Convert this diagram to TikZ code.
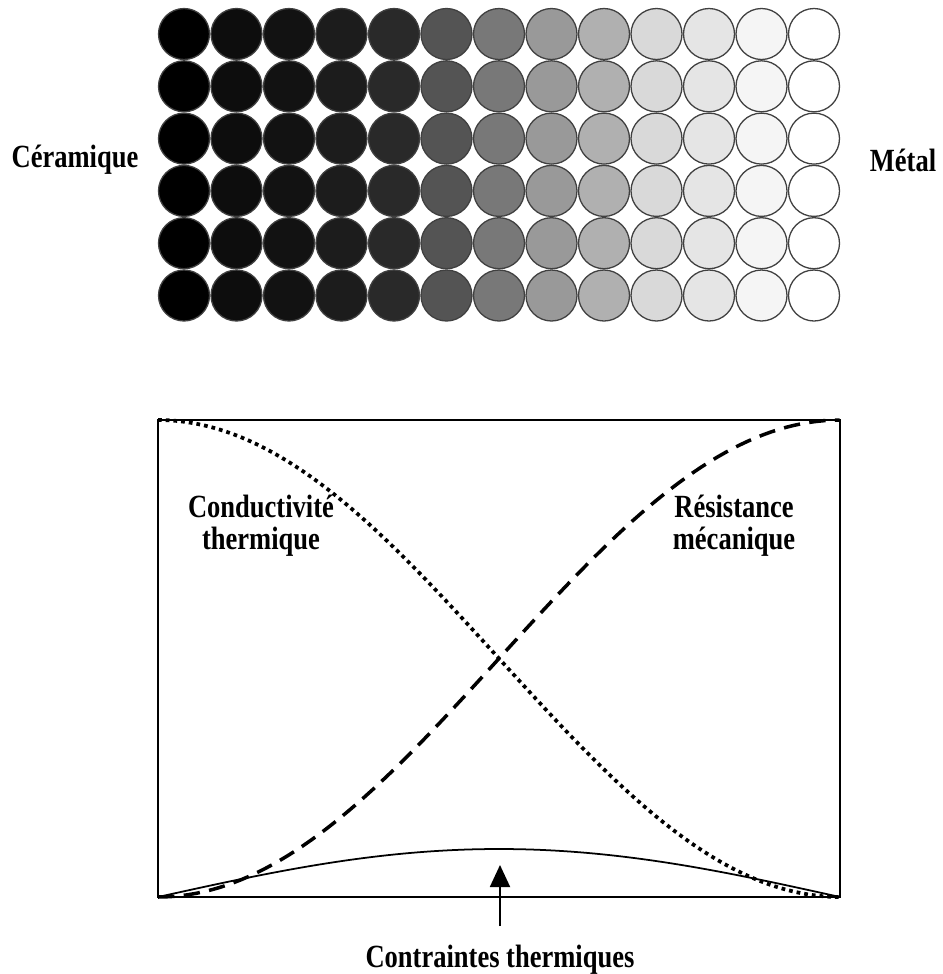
\documentclass[tikz,border=0pt]{standalone}
\usepackage{fontspec}
\setmainfont{Liberation Serif}[FakeStretch=0.82]
\usetikzlibrary{arrows.meta}

\begin{document}
\begin{tikzpicture}[x=0.03cm, y=-0.03cm,
  ball/.style={circle, draw=black!75, line width=1.1pt, minimum size=1.53cm, inner sep=0pt},
  lbl/.style={font=\fontsize{27.6}{27.5}\selectfont\bfseries, align=center, inner sep=0pt},
  frame/.style={line width=1.6pt},
  dotline/.style={line width=3.2pt, dash pattern=on 3.2pt off 3.4pt},
  dashline/.style={line width=3pt, dash pattern=on 14pt off 8pt},
  arr/.style={-{Triangle[width=0.6cm,length=0.66cm]}, line width=1.6pt}
]
\useasboundingbox (0,0) rectangle (942,974);

% ===== Particle grid =====
\foreach \g [count=\c from 0] in {100,95,93,89,84,67,53,40,31,15,10,4,0}
  \foreach \r in {0,...,5}
    \node[ball, fill=black!\g] (p-\c-\r) at ({184+52.5*\c},{34+52.3*\r}) {};

\node[lbl] (ceram) at (75,160) {Céramique};
\node[lbl] (metal) at (903,160) {Métal};

% ===== Property curves =====
\draw[dotline] plot[variable=\t, domain=0:1, samples=90]
  ({158+682*\t},{420+477*(1-cos(180*\t))/2});
\draw[dashline] plot[variable=\t, domain=0:1, samples=90]
  ({158+682*\t},{897-477*(1-cos(180*\t))/2});
\draw[line width=1.5pt] plot[variable=\t, domain=0:1, samples=90]
  ({158+682*\t},{897-48*sin(180*\t)});
\draw[frame] (158,420) rectangle (840,897);

\node[lbl] (cond) at (261,526) {Conductivité\\thermique};
\node[lbl] (resist) at (734,526) {Résistance\\mécanique};

% ===== Thermal stress arrow =====
\node[lbl] (stress) at (500,960) {Contraintes thermiques};
\coordinate (tail) at (500,926);
\coordinate (tip) at (500,865);
\draw[arr] (tail) -- (tip);

\end{tikzpicture}
\end{document}
